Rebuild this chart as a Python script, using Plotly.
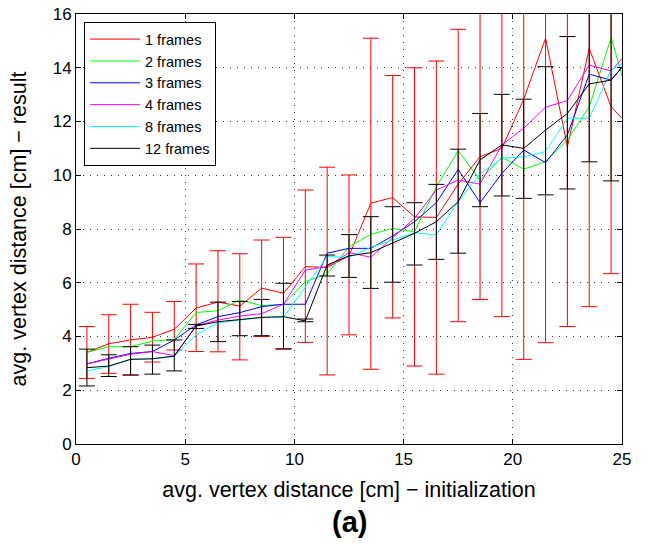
import plotly.graph_objects as go

x_vals = [0.5, 1.5, 2.5, 3.5, 4.5, 5.5, 6.5, 7.5, 8.5, 9.5, 10.5, 11.5, 12.5,
          13.5, 14.5, 15.5, 16.5, 17.5, 18.5, 19.5, 20.5, 21.5, 22.5, 23.5, 24.5, 25.5]

frames_1 = [3.41, 3.73, 3.87, 3.97, 4.27, 5.06, 5.28, 5.13, 5.80, 5.61, 6.60, 6.57, 7.00,
            8.96, 9.17, 8.45, 8.43, 9.67, 10.69, 11.00, 12.83, 15.10, 11.06, 14.72, 12.55, 11.70]
frames_1_hi = [4.37, 4.81, 5.20, 4.90, 5.30, 6.70, 7.19, 7.08, 7.59, 7.69, 9.45, 10.30, 10.01,
               15.10, 13.71, 14.00, 14.25, 15.43, 18.0, 18.0, 18.0, 18.0, 18.0, 18.0, 18.0, 18.0]
frames_1_lo = [2.44, 2.63, 2.56, 3.05, 3.50, 3.44, 3.43, 3.13, 4.00, 3.55, 3.78, 2.57, 4.06,
               2.78, 4.69, 2.90, 2.60, 4.55, 5.38, 4.74, 3.15, 3.77, 4.37, 5.11, 6.34, 6.00]

frames_2 = [3.41, 3.62, 3.62, 3.83, 3.89, 4.89, 4.96, 5.36, 5.15, 5.20, 6.04, 6.33, 7.34,
            7.80, 8.02, 7.90, 9.57, 10.91, 9.82, 10.67, 10.23, 10.50, 11.31, 12.55, 15.13, 12.30]
frames_3 = [2.98, 3.19, 3.37, 3.44, 3.87, 4.43, 4.74, 4.89, 5.11, 5.20, 5.20, 7.10, 7.28,
            7.28, 7.74, 8.27, 8.98, 10.22, 8.98, 10.07, 10.94, 10.47, 11.50, 13.76, 13.54, 14.50]
frames_4 = [2.98, 3.15, 3.34, 3.44, 3.29, 4.40, 4.61, 4.76, 4.85, 5.20, 6.47, 6.60, 7.12,
            6.95, 7.69, 8.40, 9.45, 9.82, 9.67, 11.13, 11.75, 12.53, 12.78, 14.10, 13.88, 14.80]
frames_8 = [2.72, 2.88, 3.15, 3.17, 3.27, 4.06, 4.51, 4.61, 4.71, 4.71, 5.85, 6.97, 6.95,
            7.32, 7.59, 7.86, 7.78, 9.02, 10.05, 10.63, 10.69, 10.88, 12.12, 12.12, 13.92, 14.40]
frames_12 = [2.84, 2.90, 3.15, 3.17, 3.27, 4.39, 4.55, 4.64, 4.71, 4.74, 4.58, 6.66, 7.00,
             7.12, 7.47, 7.84, 8.27, 9.02, 10.57, 11.13, 11.00, 11.68, 12.30, 13.40, 13.54, 14.50]
frames_12_hi = [3.53, 3.32, 3.62, 3.68, 3.87, 4.45, 5.28, 5.30, 5.38, 5.98, 4.65, 7.03, 7.79,
                8.46, 8.83, 8.98, 9.66, 10.97, 12.30, 13.01, 12.83, 14.04, 15.16, 16.5, 16.5, 16.5]
frames_12_lo = [2.16, 2.51, 2.57, 2.60, 2.72, 4.30, 3.81, 4.03, 4.03, 3.53, 4.55, 6.25, 6.20,
                5.79, 6.02, 6.66, 6.87, 7.10, 8.83, 9.23, 9.14, 9.27, 9.49, 10.50, 9.79, 10.00]

series_names = ["1 frames", "2 frames", "3 frames", "4 frames", "8 frames", "12 frames"]
series_colors = ["#ff0000", "#00ff00", "#0000ff", "#ff00ff", "#00ffff", "#000000"]
x_ticks = [0, 5, 10, 15, 20, 25]
y_ticks = [0, 2, 4, 6, 8, 10, 12, 14, 16]

FONT = "Liberation Sans, Arial, Helvetica, sans-serif"

fig = go.Figure()

series = [frames_1, frames_2, frames_3, frames_4, frames_8, frames_12]
errors = {0: (frames_1_hi, frames_1_lo), 5: (frames_12_hi, frames_12_lo)}

for i, (name, col, ys) in enumerate(zip(series_names, series_colors, series)):
    kw = {}
    if i in errors:
        hi, lo = errors[i]
        kw["error_y"] = dict(
            type="data", symmetric=False,
            array=[h - v for h, v in zip(hi, ys)],
            arrayminus=[v - l for v, l in zip(ys, lo)],
            color=col, thickness=1, width=8,
        )
    fig.add_trace(go.Scatter(x=x_vals, y=ys, mode="lines", name=name,
                             line=dict(color=col, width=1), **kw))

axis_common = dict(
    showline=True, linecolor="black", linewidth=1, mirror="ticks",
    ticks="inside", ticklen=5, tickcolor="black",
    showgrid=True, gridcolor="#333333", gridwidth=1, griddash="1px,6px",
    zeroline=False, tickfont=dict(family=FONT, size=17, color="black"),
)

fig.update_xaxes(range=[0, 25], tickvals=x_ticks,
                 title=dict(text="avg. vertex distance [cm] − initialization",
                            font=dict(family=FONT, size=21.5, color="black"), standoff=13),
                 **axis_common)
fig.update_yaxes(range=[0, 16], tickvals=y_ticks,
                 title=dict(text="avg. vertex distance [cm] − result",
                            font=dict(family=FONT, size=21.5, color="black"), standoff=20),
                 **axis_common)

fig.update_layout(
    width=648, height=544,
    margin=dict(l=76, r=26, t=14, b=100, autoexpand=False),
    plot_bgcolor="white", paper_bgcolor="white",
    font=dict(family=FONT, color="black"),
    legend=dict(x=0.0147, y=0.981, xanchor="left", yanchor="top",
                bgcolor="white", bordercolor="black", borderwidth=1,
                font=dict(family=FONT, size=14.5, color="black"),
                itemwidth=50, tracegroupgap=0),
    showlegend=True,
    annotations=[dict(text="<b>(a)</b>", x=0.5, y=-0.181, xref="paper", yref="paper",
                      xanchor="center", yanchor="middle", showarrow=False,
                      font=dict(family=FONT, size=29, color="black"))],
)

# remove the browser's default 8px body margin so the figure fills the window exactly
fig.write_html("out.html", config={"displayModeBar": False},
               post_script="document.body.style.margin='0px';")
